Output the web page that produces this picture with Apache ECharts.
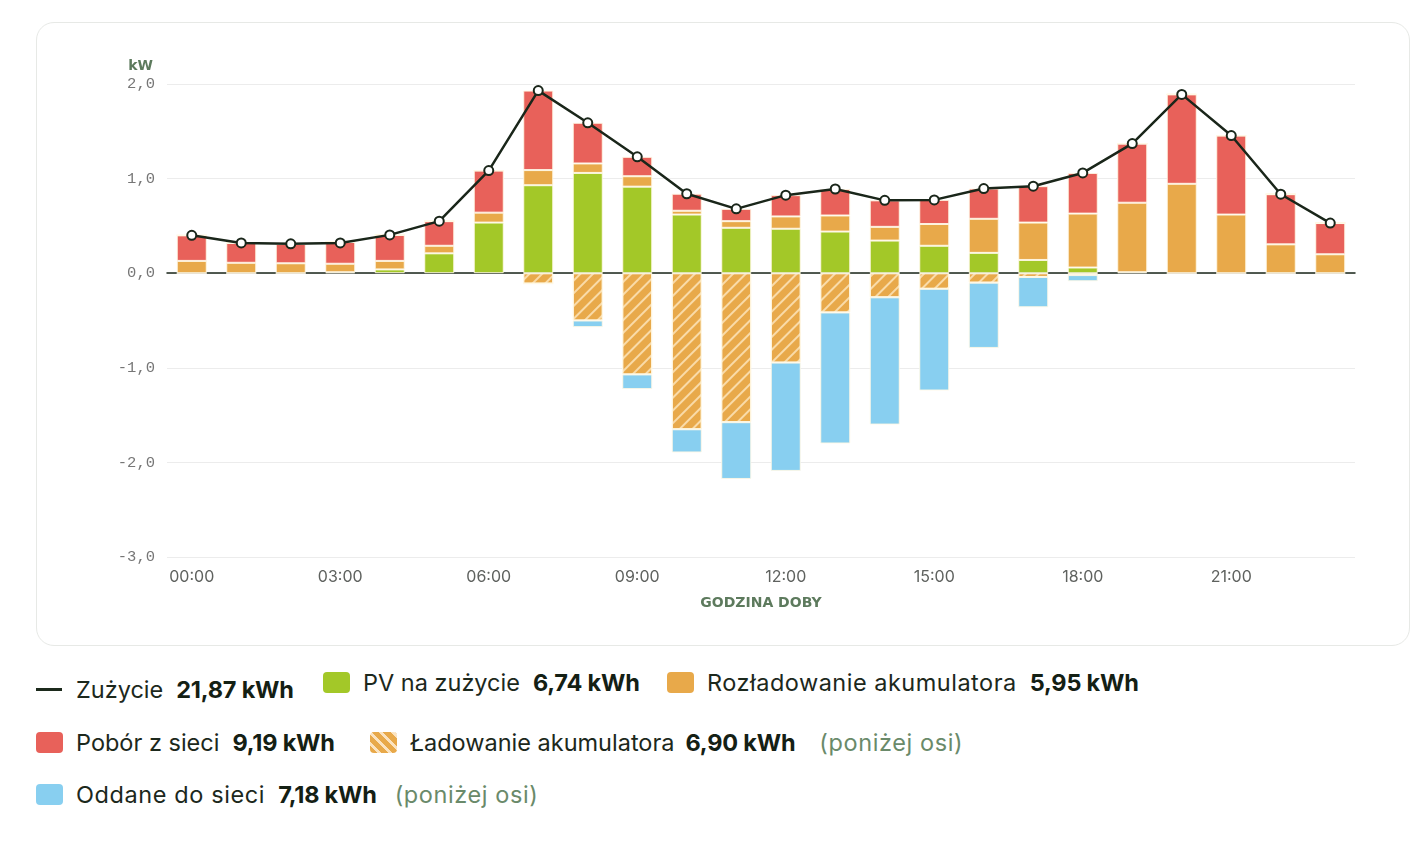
<!DOCTYPE html>
<html>
<head>
<meta charset="utf-8">
<script src="https://cdn.jsdelivr.net/npm/echarts@6/dist/echarts.min.js"></script>
<style>
  html, body { margin:0; padding:0; background:#fff; width:1416px; height:842px; overflow:hidden; font-family: Inter, "Noto Sans", sans-serif; }
  #card { position:absolute; left:36px; top:22px; width:1372px; height:622px; border:1px solid #e7e9e6; border-radius:18px; }
  #chart { position:absolute; left:0; top:0; width:1416px; height:650px; }
  .li { position:absolute; display:flex; align-items:center; font-size:23.5px; color:#1c281c; white-space:nowrap; }
  .li b { font-weight:700; margin-left:13px; color:#142014; letter-spacing:-0.2px; }
  .li .note { color:#6a8a6a; margin-left:14px; letter-spacing:0.6px; }
  .sw { width:27px; height:21px; border-radius:4px; margin-right:13px; }
  .dash { width:26px; height:3px; background:#1c2a1c; margin-right:14px; }
</style>
</head>
<body>
<div id="card"></div>
<div id="chart"></div>

<div class="li" style="left:36px; top:675px;"><span class="dash"></span>Zużycie<b>21,87 kWh</b></div>
<div class="li" style="left:323px; top:668px;"><span class="sw" style="background:#a3c828"></span>PV na zużycie<b>6,74 kWh</b></div>
<div class="li" style="left:667px; top:668px;"><span class="sw" style="background:#e8a94a"></span><span style="letter-spacing:0.5px">Rozładowanie akumulatora</span><b>5,95 kWh</b></div>
<div class="li" style="left:36px; top:728px;"><span class="sw" style="background:#e8615a"></span>Pobór z sieci<b>9,19 kWh</b></div>
<div class="li" style="left:370px; top:728px;"><span class="sw" style="background:repeating-linear-gradient(45deg,#e8a94a 0 5px,#fbe3c0 5px 8px)"></span>Ładowanie akumulatora<b style="margin-left:11px">6,90 kWh</b><span class="note" style="margin-left:24px">(poniżej osi)</span></div>
<div class="li" style="left:36px; top:780px;"><span class="sw" style="background:#88cff0"></span><span style="letter-spacing:0.6px">Oddane do sieci</span><b>7,18 kWh</b><span class="note" style="margin-left:18px">(poniżej osi)</span></div>

<script>
const hours = ['00:00','01:00','02:00','03:00','04:00','05:00','06:00','07:00','08:00','09:00','10:00','11:00',
               '12:00','13:00','14:00','15:00','16:00','17:00','18:00','19:00','20:00','21:00','22:00','23:00'];
const pvUse      = [0, 0, 0, 0.01, 0.04, 0.21, 0.535, 0.93, 1.06, 0.915, 0.62, 0.48, 0.47, 0.44, 0.345, 0.29, 0.215, 0.14, 0.06, 0.01, 0, 0, 0, 0];
const batDis     = [0.13, 0.11, 0.105, 0.09, 0.09, 0.08, 0.105, 0.16, 0.10, 0.11, 0.04, 0.07, 0.13, 0.17, 0.145, 0.23, 0.36, 0.395, 0.57, 0.735, 0.945, 0.62, 0.305, 0.20];
const gridDraw   = [0.27, 0.21, 0.205, 0.23, 0.275, 0.26, 0.445, 0.84, 0.43, 0.205, 0.18, 0.13, 0.225, 0.28, 0.28, 0.255, 0.32, 0.385, 0.43, 0.625, 0.945, 0.835, 0.53, 0.33];
const batCharge  = [0, 0, 0, 0, 0, 0, 0, -0.11, -0.50, -1.07, -1.65, -1.575, -0.945, -0.415, -0.255, -0.165, -0.10, -0.04, -0.02, 0, 0, 0, 0, 0];
const gridExport = [0, 0, 0, 0, 0, 0, 0, 0, -0.07, -0.155, -0.245, -0.60, -1.145, -1.385, -1.345, -1.075, -0.69, -0.32, -0.065, 0, 0, 0, 0, 0];
const consumption= [0.40, 0.32, 0.31, 0.32, 0.405, 0.55, 1.085, 1.93, 1.59, 1.23, 0.84, 0.68, 0.825, 0.89, 0.77, 0.775, 0.895, 0.92, 1.06, 1.37, 1.89, 1.455, 0.835, 0.53];
const yTicks = [-3, -2, -1, 0, 1, 2];

const chart = echarts.init(document.getElementById('chart'), null, {renderer:'canvas'});
const segBorder = { borderColor:'rgba(255,248,230,0.9)', borderWidth:1 };
const fmt = v => v.toFixed(1).replace('.', ',');

chart.setOption({
  animation:false,
  backgroundColor:'transparent',
  grid:{ left:167, right:61, top:84, bottom:93, containLabel:false },
  xAxis:{
    type:'category', data:hours,
    axisLine:{ onZero:true, lineStyle:{ color:'#1a261a', width:1.5 } },
    axisTick:{ show:false },
    axisLabel:{ interval:2, color:'#5f625f', fontSize:16, fontFamily:'Inter, sans-serif', margin:12 },
    name:'GODZINA DOBY', nameLocation:'middle', nameGap:39,
    nameTextStyle:{ color:'#5d7a5d', fontSize:14, fontWeight:'bold', fontFamily:'"DejaVu Sans", sans-serif', verticalAlign:'top' }
  },
  yAxis:{
    type:'value', min:-3, max:2, interval:1,
    name:'kW', nameLocation:'end', nameGap:11,
    nameTextStyle:{ color:'#5d7a5d', fontSize:14, fontWeight:'bold', fontFamily:'"DejaVu Sans", sans-serif', align:'right', padding:[0,14,0,0] },
    axisLine:{ show:false }, axisTick:{ show:false },
    axisLabel:{ color:'#767676', fontSize:15.5, fontFamily:'"Liberation Mono", "DejaVu Sans Mono", monospace', margin:12,
      formatter: v => fmt(v) },
    splitLine:{ lineStyle:{ color:'#ececec', width:1 } }
  },
  series:[
    { name:'PV na zużycie', type:'bar', stack:'e', data:pvUse, barWidth:30, itemStyle:Object.assign({color:'#a3c828'}, segBorder) },
    { name:'Rozładowanie akumulatora', type:'bar', stack:'e', data:batDis, itemStyle:Object.assign({color:'#e8a94a'}, segBorder) },
    { name:'Pobór z sieci', type:'bar', stack:'e', data:gridDraw, itemStyle:Object.assign({color:'#e8615a'}, segBorder) },
    { name:'Ładowanie akumulatora', type:'bar', stack:'e', data:batCharge,
      itemStyle:Object.assign({color:'#e8a94a',
        decal:{ symbol:'rect', dashArrayX:[1,0], dashArrayY:[2,7], rotation:-Math.PI/4, color:'rgba(255,236,200,0.75)', symbolSize:1 }}, segBorder) },
    { name:'Oddane do sieci', type:'bar', stack:'e', data:gridExport, itemStyle:Object.assign({color:'#88cff0'}, segBorder) },
    { name:'Zużycie', type:'line', data:consumption, z:10,
      lineStyle:{ color:'#1a261a', width:2.5 },
      symbol:'circle', symbolSize:9,
      itemStyle:{ color:'#ffffff', borderColor:'#1a261a', borderWidth:2 } }
  ]
});
</script>
</body>
</html>
